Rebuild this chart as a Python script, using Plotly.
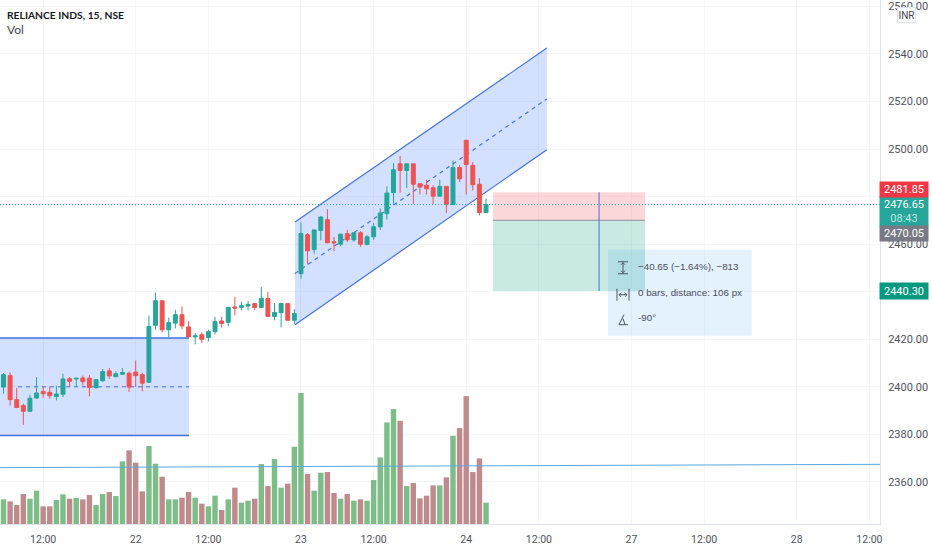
import plotly.graph_objects as go

bars = list(range(74))
opens = [2399.9,2404.7,2394.6,2392.1,2389.7,2395.3,2398.0,2397.7,2395.9,2396.9,2403.4,2403.3,2403.7,2403.6,2399.7,2402.5,2406.7,2404.3,2405.3,2405.7,2406.2,2405.1,2401.9,2425.9,2436.2,2424.0,2426.8,2430.3,2425.2,2421.0,2421.9,2420.7,2423.2,2427.7,2427.1,2433.6,2433.4,2434.0,2435.0,2433.4,2437.1,2429.6,2431.2,2435.0,2428.0,
         2447.6,2464.0,2457.7,2465.8,2470.3,2461.0,2460.0,2464.4,2461.8,2464.8,2459.9,2463.1,2467.3,2472.8,2481.7,2493.8,2491.0,2493.8,2485.4,2484.8,2483.7,2480.2,2484.3,2476.7,2492.2,2503.7,2493.1,2485.2,2473.3]
highs = [2405.8,2406.1,2399.5,2392.9,2396.7,2404.1,2400.2,2400.2,2400.5,2405.5,2404.1,2403.6,2404.7,2405.0,2403.3,2407.5,2407.9,2406.5,2407.9,2406.4,2411.1,2405.8,2429.9,2439.7,2436.2,2429.1,2432.4,2433.8,2427.5,2422.6,2422.9,2424.0,2429.4,2429.4,2433.4,2437.8,2435.8,2436.1,2435.2,2442.0,2440.0,2435.2,2435.0,2435.0,2432.7,
         2469.1,2464.7,2466.0,2471.9,2474.7,2463.0,2464.4,2466.0,2464.8,2465.5,2463.8,2468.9,2475.0,2484.3,2494.1,2497.1,2493.8,2493.8,2485.7,2487.1,2484.8,2487.1,2484.3,2495.2,2493.2,2503.7,2494.5,2487.8,2479.2]
lows = [2397.1,2392.1,2391.0,2384.0,2389.7,2394.9,2395.3,2394.9,2394.3,2395.7,2399.9,2399.9,2400.5,2396.0,2399.1,2402.2,2403.3,2404.0,2405.0,2397.8,2399.9,2398.1,2401.9,2424.0,2422.9,2421.0,2424.6,2424.3,2420.4,2417.9,2418.4,2419.1,2422.0,2424.9,2425.4,2430.1,2432.2,2432.2,2432.2,2433.1,2429.6,2428.0,2425.0,2428.0,2426.4,
        2445.5,2451.4,2456.0,2461.6,2460.4,2457.0,2459.1,2460.9,2461.0,2458.9,2459.5,2461.8,2466.0,2470.3,2477.0,2481.7,2483.6,2477.0,2480.9,2480.9,2477.0,2480.1,2473.1,2476.7,2486.2,2480.9,2482.6,2472.1,2473.3]
closes = [2405.1,2394.6,2391.3,2389.7,2395.2,2397.4,2397.1,2396.3,2397.0,2403.3,2402.3,2403.6,2402.2,2399.7,2403.0,2406.4,2404.6,2405.5,2406.0,2399.9,2404.7,2401.5,2425.4,2436.2,2424.0,2427.0,2430.3,2425.6,2421.0,2421.4,2420.0,2423.2,2427.4,2426.6,2433.4,2433.1,2434.1,2434.7,2433.4,2437.2,2429.6,2431.3,2435.0,2428.0,2430.8,
          2464.5,2457.2,2466.0,2471.4,2460.6,2460.6,2464.2,2461.8,2464.8,2460.0,2463.1,2467.3,2473.1,2481.5,2491.3,2491.0,2493.8,2485.2,2484.0,2483.3,2480.2,2484.3,2476.8,2492.2,2487.5,2493.5,2485.0,2473.3,2476.65]
volumes = [74,68,57,90,76,100,53,53,72,89,76,78,74,87,57,90,96,84,188,221,184,98,234,181,142,74,74,79,96,79,61,53,85,42,74,109,64,70,76,180,
           114,195,109,121,232,393,150,100,154,156,93,76,90,70,74,70,132,200,305,345,310,114,123,77,85,116,116,140,265,288,384,156,197,64]

tick_vals = [6,20,31,45,56,70,81,95,106,120,131]
tick_text = ["12:00","22","12:00","23","12:00","24","12:00","27","12:00","28","12:00"]
price_ticks = [2360,2380,2400,2420,2440,2460,2480,2500,2520,2540,2560]

rect_x = [-1, 28.06]
rect_y = [2379.5, 2420.5]
rect_mid = 2400.0
rect_mid_start = 2.2
chan_x = [44.1, 82.2]
chan_top = [2469.3, 2542.5]
chan_bot = [2426.1, 2499.7]
chan_mid = [2447.7, 2521.1]
pos_x = [74.05, 97.05]
stop_price, entry_price, target_price = 2481.85, 2470.05, 2440.30
last_price = 2476.65
measure_x = 90.1
measure_box_x = [91.45, 113.2]
measure_box_y = [2421.5, 2457.6]
hline_x = [-1, 133]
hline_y = [2366.0, 2367.4]

UP, DOWN = "#26A69A", "#EF5350"
VUP, VDOWN = "#7DBD87", "#BE8A8B"
BLUE = "#4472E0"
FONT = "Liberation Sans, sans-serif"
AXF = "Roboto, sans-serif"
PW, PH = 880.0, 524.5
XR = [-0.53, 132.6]
YR = [2342.3, 2562.7]

def X(p): return p / PW
def Y(p): return 1 - p / PH

shapes = []
def line(x0, y0, x1, y1, color, width=1, dash="solid", layer="between", xref="x", yref="y"):
    shapes.append(dict(type="line", x0=x0, y0=y0, x1=x1, y1=y1, xref=xref, yref=yref,
                       layer=layer, line=dict(color=color, width=width, dash=dash)))

# consolidation box
shapes.append(dict(type="rect", xref="x", yref="y", x0=rect_x[0], x1=rect_x[1], y0=rect_y[0], y1=rect_y[1],
                   fillcolor="rgba(41,98,255,0.2)", line=dict(width=0), layer="between"))
line(rect_x[0], rect_y[0], rect_x[1], rect_y[0], BLUE, 1.5)
line(rect_x[0], rect_y[1], rect_x[1], rect_y[1], BLUE, 1.5)
line(rect_mid_start, rect_mid, rect_x[1], rect_mid, BLUE, 1, "4px 4px")
# parallel channel
shapes.append(dict(type="path", xref="x", yref="y", layer="between",
                   path=f"M {chan_x[0]} {chan_top[0]} L {chan_x[1]} {chan_top[1]} L {chan_x[1]} {chan_bot[1]} L {chan_x[0]} {chan_bot[0]} Z",
                   fillcolor="rgba(41,98,255,0.2)", line=dict(width=0)))
line(chan_x[0], chan_top[0], chan_x[1], chan_top[1], BLUE, 1.2)
line(chan_x[0], chan_bot[0], chan_x[1], chan_bot[1], BLUE, 1.2)
line(chan_x[0], chan_mid[0], chan_x[1], chan_mid[1], BLUE, 1.2, "4px 4px")
# short position
shapes.append(dict(type="rect", xref="x", yref="y", x0=pos_x[0], x1=pos_x[1], y0=entry_price, y1=stop_price,
                   fillcolor="rgba(242,54,69,0.2)", line=dict(width=0), layer="between"))
shapes.append(dict(type="rect", xref="x", yref="y", x0=pos_x[0], x1=pos_x[1], y0=target_price, y1=entry_price,
                   fillcolor="rgba(8,153,129,0.22)", line=dict(width=0), layer="between"))
line(pos_x[0], entry_price, pos_x[1], entry_price, "#8a8f98", 1)
# measure
line(measure_x, stop_price, measure_x, target_price, BLUE, 1, layer="above")
shapes.append(dict(type="rect", xref="x", yref="y", x0=measure_box_x[0], x1=measure_box_x[1],
                   y0=measure_box_y[0], y1=measure_box_y[1], fillcolor="rgba(33,150,243,0.12)",
                   line=dict(width=0), layer="above"))
# long horizontal, last price
line(hline_x[0], hline_y[0], hline_x[1], hline_y[1], "#5BA7E2", 1, layer="above")
line(0, last_price, 1, last_price, "#26A69A", 1, "1px 2px", layer="above", xref="paper")

# measure icons
IC = "#4A5568"
def pl(x0, y0, x1, y1):
    line(X(x0), Y(y0), X(x1), Y(y1), IC, 1, layer="above", xref="paper", yref="paper")
pl(618, 262, 628, 262); pl(618, 274, 628, 274); pl(623, 263, 623, 273)
pl(621, 265, 623, 263); pl(625, 265, 623, 263); pl(621, 271, 623, 273); pl(625, 271, 623, 273)
pl(617, 289, 617, 301); pl(629, 289, 629, 301); pl(619, 295, 627, 295)
pl(619, 295, 621, 293); pl(619, 295, 621, 297); pl(627, 295, 625, 293); pl(627, 295, 625, 297)
pl(619, 325, 628, 325); pl(619, 325, 624, 315); pl(623, 319, 625, 325)

annotations = []
def txt(x, y, s, size=12, color="#4A4F5C", bold=False, family=FONT):
    annotations.append(dict(x=X(x), y=Y(y), xref="paper", yref="paper", text=f"<b>{s}</b>" if bold else s,
                            showarrow=False, xanchor="left", yanchor="middle",
                            font=dict(size=size, color=color, family=family)))
txt(5, 15, "RELIANCE INDS, 15, NSE", 10.3, "#131722", True, "Lato")
txt(5, 30, "Vol", 12, "#434651", False, "Lato")
txt(636, 267, "−40.65 (−1.64%), −813", 9.8)
txt(636, 293, "0 bars, distance: 106 px", 9.8)
txt(636, 318, "-90°", 9.8)

def tag(price, s, color, h=15):
    annotations.append(dict(x=X(904), y=price, xref="paper", yref="y", text=s, showarrow=False,
                            xanchor="center", yanchor="middle", bgcolor=color, width=48, height=h, borderpad=0,
                            font=dict(size=11, color="white", family=AXF)))
tag(target_price, "2440.30", "#089981", 16)
tag(2473.8, "2476.65<br><span style='color:#BFE5E0'>08:43</span>", "#26A69A", 29)
tag(2464.6, "2470.05", "#787B86")
tag(2483.1, "2481.85", "#F23645")
annotations.append(dict(x=X(906), y=Y(15.5), xref="paper", yref="paper", text="INR", showarrow=False,
                        xanchor="center", yanchor="middle", bgcolor="white", bordercolor="#E0E3EB", borderwidth=1,
                        width=17, height=14, borderpad=0, font=dict(size=10, color="#434651", family=AXF)))

fig = go.Figure()
fig.add_candlestick(x=bars, open=opens, high=highs, low=lows, close=closes, yaxis="y", whiskerwidth=0,
                    increasing=dict(line=dict(color=UP, width=1), fillcolor=UP),
                    decreasing=dict(line=dict(color=DOWN, width=1), fillcolor=DOWN),
                    showlegend=False)
fig.add_bar(x=bars, y=volumes, yaxis="y2", width=0.82,
            marker=dict(color=[VUP if c >= o else VDOWN for o, c in zip(opens, closes)], line=dict(width=0)),
            showlegend=False, hoverinfo="skip")

fig.update_layout(
    width=932, height=550, autosize=False,
    margin=dict(l=0, r=52, t=0, b=25.5, pad=0),
    paper_bgcolor="white", plot_bgcolor="white",
    bargap=0.18, boxgap=0.15, boxmode="overlay",
    shapes=shapes, annotations=annotations,
    xaxis=dict(range=XR, tickmode="array", tickvals=tick_vals, ticktext=tick_text, showgrid=True,
               gridcolor="#F5F6F8", zeroline=False, showline=True, linecolor="#E0E3EB", ticks="outside",
               ticklen=5, tickcolor="rgba(0,0,0,0)", rangeslider=dict(visible=False),
               tickfont=dict(size=10.5, color="#50535E", family=AXF)),
    yaxis=dict(range=YR, side="right", anchor="x", tickmode="array", tickvals=price_ticks,
               tickformat=".2f", showgrid=True, gridcolor="#F5F6F8", zeroline=False, showline=True,
               linecolor="#E0E3EB", ticks="outside", ticklen=5, tickcolor="rgba(0,0,0,0)",
               tickfont=dict(size=11, color="#50535E", family=AXF)),
    yaxis2=dict(range=[0, PH * 3], overlaying="y", visible=False, fixedrange=True),
)
fig.write_html("out.html", config=dict(displayModeBar=False),
               post_script="document.body.style.margin='0';document.documentElement.style.overflow='hidden';")
